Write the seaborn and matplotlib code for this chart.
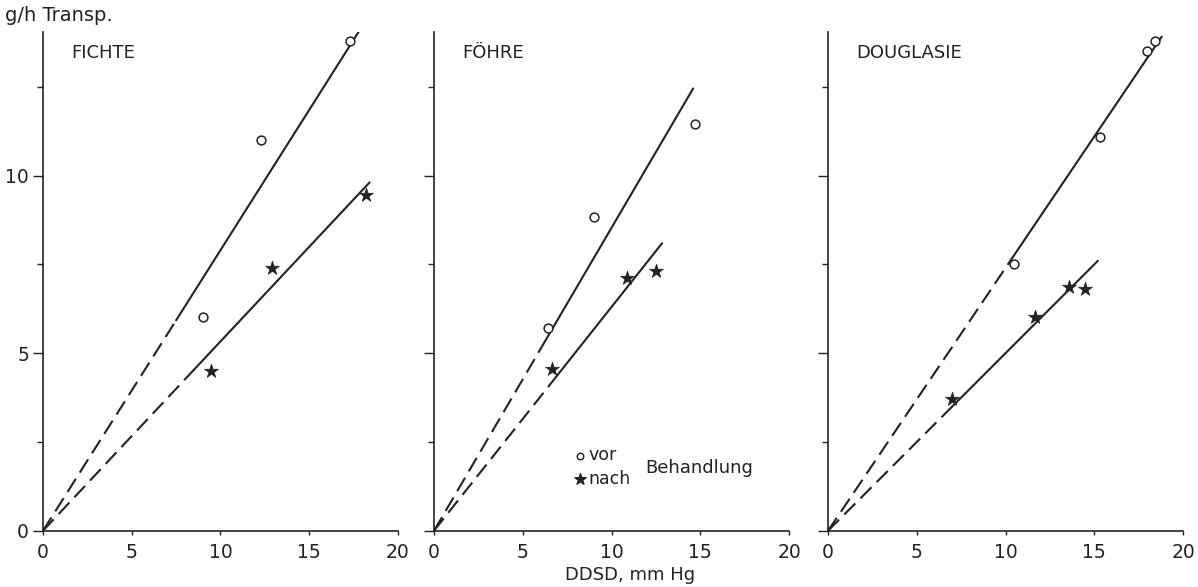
import numpy as np
import pandas as pd
import matplotlib
matplotlib.use("Agg")
import matplotlib.pyplot as plt
import seaborn as sns

# Data
species = ["FICHTE", "FÖHRE", "DOUGLASIE"]

vor_x = [[9.0, 12.3, 17.3], [6.4, 9.0, 14.7], [10.45, 15.3, 17.95, 18.4]]
vor_y = [[6.03, 11.0, 13.8], [5.72, 8.82, 11.44], [7.5, 11.1, 13.5, 13.8]]
nach_x = [[9.45, 12.9, 18.2], [6.65, 10.87, 12.5], [7.0, 11.65, 13.6, 14.5]]
nach_y = [[4.5, 7.39, 9.46], [4.56, 7.13, 7.3], [3.72, 6.03, 6.87, 6.82]]

# fitted lines through the origin: slope, start of solid part, end
vor_slope = [0.79, 0.853, 0.74]
vor_solid = [7.5, 6.0, 10.2]
vor_end = [17.9, 14.6, 18.8]
nach_slope = [0.533, 0.63, 0.50]
nach_solid = [8.5, 6.5, 7.0]
nach_end = [18.4, 12.85, 15.2]

sns.set_style("ticks")
plt.rcParams["font.family"] = ["DejaVu Sans"]
ink = "#222222"

fig = plt.figure(figsize=(11.98, 5.87), dpi=100)
lefts = [0.0359, 0.3623, 0.6912]
axes = [fig.add_axes([l, 0.0959, 0.2963, 0.850]) for l in lefts]

for i, ax in enumerate(axes):
    df_v = pd.DataFrame({"x": vor_x[i], "y": vor_y[i]})
    df_n = pd.DataFrame({"x": nach_x[i], "y": nach_y[i]})

    # lines: dashed from origin, solid over the measured range
    for slope, s0, s1 in [(vor_slope[i], vor_solid[i], vor_end[i]),
                          (nach_slope[i], nach_solid[i], nach_end[i])]:
        xd = np.array([0, s0])
        xs = np.array([s0, s1])
        ax.plot(xd, slope * xd, color=ink, lw=1.5, ls=(0, (7.5, 3.5)))
        ax.plot(xs, slope * xs, color=ink, lw=1.5)

    sns.scatterplot(data=df_v, x="x", y="y", ax=ax, marker="o", s=40,
                    facecolor="white", edgecolor=ink, linewidth=1.1, zorder=3)
    sns.scatterplot(data=df_n, x="x", y="y", ax=ax, marker="*", s=110,
                    color=ink, edgecolor=ink, linewidth=0.5, zorder=3)

    ax.set_xlim(0, 20)
    ax.set_ylim(0, 14.05)
    ax.set_xticks([0, 5, 10, 15, 20])
    ax.set_yticks([0, 5, 10])
    ax.set_yticks([2.5, 7.5, 12.5], minor=True)
    ax.tick_params(axis="x", direction="out", length=3, width=1, labelsize=13.5,
                   colors=ink, pad=6)
    ax.tick_params(axis="y", which="major", direction="out", length=7, width=1,
                   labelsize=13.5, colors=ink, pad=3)
    ax.tick_params(axis="y", which="minor", direction="out", length=4, width=1,
                   colors=ink)
    if i > 0:
        ax.set_yticklabels([])
    ax.set_xlabel("")
    ax.set_ylabel("")
    sns.despine(ax=ax)
    for sp in ["left", "bottom"]:
        ax.spines[sp].set_color(ink)
        ax.spines[sp].set_linewidth(1.2)
    ax.text(0.08, 0.975, species[i], transform=ax.transAxes, fontsize=13,
            color=ink, va="top", ha="left")

fig.text(0.004, 0.974, "g/h Transp.", fontsize=14, color=ink, va="center")
fig.text(0.526, 0.02, "DDSD, mm Hg", fontsize=13, color=ink, ha="center",
         va="center")

# legend inside middle panel
ax = axes[1]
ax.scatter([8.23], [2.11], marker="o", s=22, facecolor="white", edgecolor=ink,
           linewidth=1.0)
ax.scatter([8.23], [1.47], marker="*", s=70, color=ink)
ax.text(8.7, 2.13, "vor", fontsize=12.5, color=ink, va="center")
ax.text(8.7, 1.45, "nach", fontsize=12.5, color=ink, va="center")
ax.text(11.9, 1.77, "Behandlung", fontsize=13, color=ink, va="center")

fig.savefig("out.png", dpi=100, facecolor="white")
